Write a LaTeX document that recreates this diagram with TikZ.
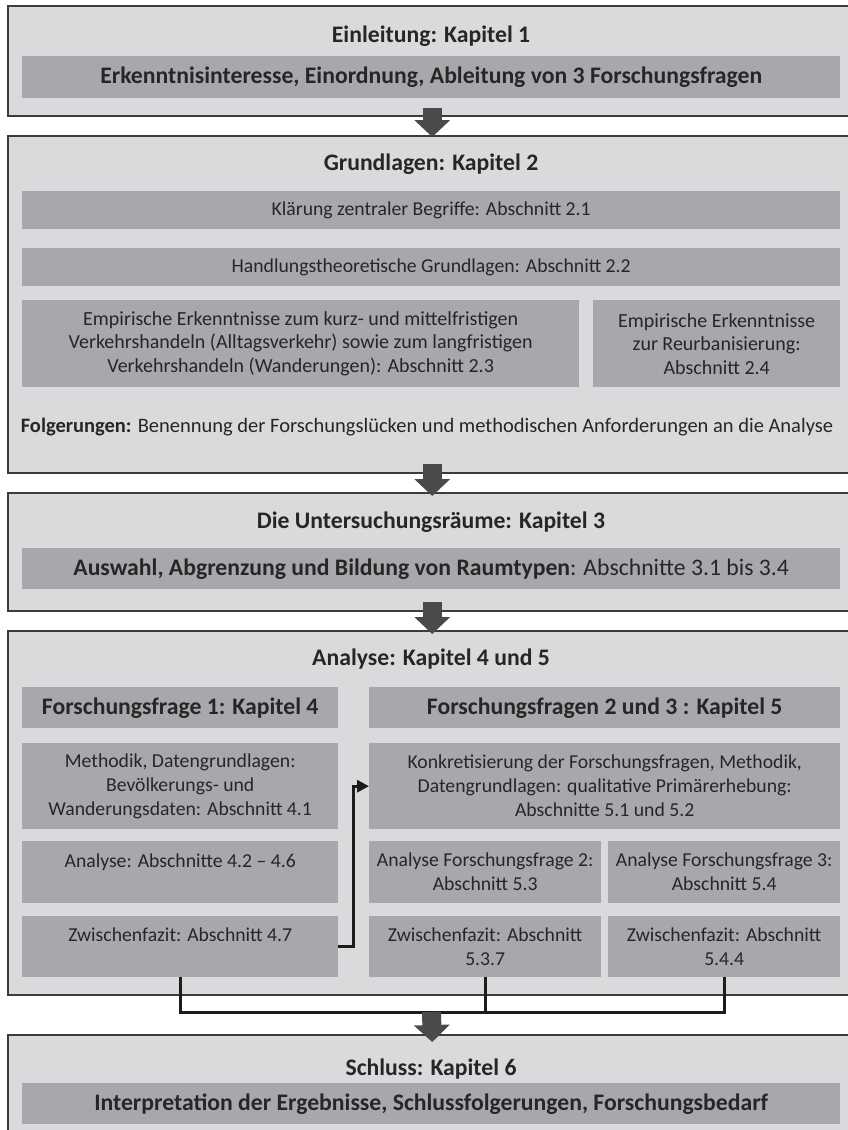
\documentclass[tikz,border=0pt]{standalone}
\usepackage{fontspec}
\setmainfont{Carlito}
\usepackage{tikz}
\usetikzlibrary{positioning, arrows.meta}
\tikzset{>=stealth}
\usepackage{xcolor}
\definecolor{boxgray}{HTML}{D9DADB}
\definecolor{innergray}{HTML}{A7A8AB}
\definecolor{framegray}{HTML}{3C3C3C}
\definecolor{textgray}{HTML}{262626}
\definecolor{arrowgray}{HTML}{4A4A4C}
\definecolor{linegray}{HTML}{1C1C1C}
\tikzset{
	chapterbox/.style={draw=framegray, line width=1.5pt, fill=boxgray, anchor=north west, inner sep=0pt, minimum width=849pt},
	sectionbox/.style={fill=innergray, anchor=north west, inner sep=0pt, align=center, text=textgray, font=\fontsize{19.7}{24}\selectfont},
	boldbox/.style={sectionbox, font=\fontsize{23.7}{28}\selectfont\bfseries},
	heading/.style={anchor=base, text=textgray, font=\fontsize{23.7}{28}\selectfont\bfseries},
	bigarrow/.style={draw=arrowgray, line width=19pt, -{Triangle[length=17pt,width=35pt]}},
	link/.style={draw=linegray, line width=3pt},
}

\begin{document}
\begin{tikzpicture}[x=1pt, y=-1pt]
			\useasboundingbox (0,0) rectangle (848,1130);
			\clip (0,0) rectangle (848,1130);
			% Kapitel 1
			\node[chapterbox, minimum height=110pt] (e1) at (7,5) {};
			\node[heading] (e1t) at (431,42.7) {Einleitung: Kapitel 1};
			\node[boldbox, minimum width=818pt, minimum height=42pt] (e1a) at (22,56) {Erkenntnisinteresse, Einordnung, Ableitung von 3 Forschungsfragen};
			% Kapitel 2
			\node[chapterbox, minimum height=337pt] (g2) at (7,135) {};
			\node[heading] (g2t) at (431,170.6) {Grundlagen: Kapitel 2};
			\node[sectionbox, minimum width=818pt, minimum height=38pt] (g21) at (22,191) {Klärung zentraler Begriffe: Abschnitt 2.1};
			\node[sectionbox, minimum width=818pt, minimum height=38pt] (g22) at (22,248) {Handlungstheoretische Grundlagen: Abschnitt 2.2};
			\node[sectionbox, minimum width=557pt, minimum height=87pt, font=\fontsize{20}{23.5}\selectfont] (g23) at (22,300) {Empirische Erkenntnisse zum kurz- und mittelfristigen\\ Verkehrshandeln (Alltagsverkehr) sowie zum langfristigen\\ Verkehrshandeln (Wanderungen): Abschnitt 2.3};
			\node[sectionbox, minimum width=247pt, minimum height=87pt, font=\fontsize{20}{23.5}\selectfont] (g24) at (593,300) {Empirische Erkenntnisse\\ zur Reurbanisierung:\\ Abschnitt 2.4};
			\node[text=textgray, font=\fontsize{20.5}{24}\selectfont] (g2f) at (427,427) {\textbf{Folgerungen:} Benennung der Forschungslücken und methodischen Anforderungen an die Analyse};
			% Kapitel 3
			\node[chapterbox, minimum height=118pt] (u3) at (7,492) {};
			\node[heading] (u3t) at (431,528.6) {Die Untersuchungsräume: Kapitel 3};
			\node[sectionbox, minimum width=818pt, minimum height=41pt, font=\fontsize{23.7}{28}\selectfont] (u3a) at (22,548) {\textbf{Auswahl, Abgrenzung und Bildung von Raumtypen}: Abschnitte 3.1 bis 3.4};
			% Kapitel 4 und 5
			\node[chapterbox, minimum height=364pt] (a4) at (7,630) {};
			\node[heading] (a4t) at (431,665.6) {Analyse: Kapitel 4 und 5};
			\node[boldbox, minimum width=316pt, minimum height=41pt] (ff1) at (22,687) {Forschungsfrage 1: Kapitel 4};
			\node[boldbox, minimum width=471pt, minimum height=41pt] (ff23) at (369,687) {Forschungsfragen 2 und 3 : Kapitel 5};
			\node[sectionbox, minimum width=316pt, minimum height=86pt] (m41) at (22,743) {Methodik, Datengrundlagen:\\ Bevölkerungs- und\\ Wanderungsdaten: Abschnitt 4.1};
			\node[sectionbox, minimum width=471pt, minimum height=86pt] (k51) at (369,743) {Konkretisierung der Forschungsfragen, Methodik,\\ Datengrundlagen: qualitative Primärerhebung:\\ Abschnitte 5.1 und 5.2};
			\node[sectionbox, minimum width=316pt, minimum height=62pt] (a42) at (22,841) {Analyse: Abschnitte 4.2 -- 4.6\\ \mbox{}};
			\node[sectionbox, minimum width=232pt, minimum height=62pt] (a53) at (369,841) {Analyse Forschungsfrage 2:\\ Abschnitt 5.3};
			\node[sectionbox, minimum width=232pt, minimum height=62pt] (a54) at (608,841) {Analyse Forschungsfrage 3:\\ Abschnitt 5.4};
			\node[sectionbox, minimum width=316pt, minimum height=61pt] (z47) at (22,916) {Zwischenfazit: Abschnitt 4.7\\ \mbox{}};
			\node[sectionbox, minimum width=232pt, minimum height=61pt] (z537) at (369,916) {Zwischenfazit: Abschnitt\\ 5.3.7};
			\node[sectionbox, minimum width=232pt, minimum height=61pt] (z544) at (608,916) {Zwischenfazit: Abschnitt\\ 5.4.4};
			% Kapitel 6
			\node[chapterbox, minimum height=120pt] (s6) at (7,1034) {};
			\node[heading] (s6t) at (431,1075.6) {Schluss: Kapitel 6};
			\node[boldbox, minimum width=818pt, minimum height=41pt] (s6a) at (22,1083) {Interpretation der Ergebnisse, Schlussfolgerungen, Forschungsbedarf};
			% Pfeile
			\coordinate (bus) at (431.5,1012);
			\draw[bigarrow] ([yshift=9pt]e1.south) -- ([yshift=-2pt]g2.north);
			\draw[bigarrow] ([yshift=10pt]g2.south) -- ([yshift=-4pt]u3.north);
			\draw[bigarrow] ([yshift=10pt]u3.south) -- ([yshift=-4pt]a4.north);
			\draw[link] (z47.south) -- (z47.south |- bus) -| (z544.south);
			\draw[link] (z537.south) -- (z537.south |- bus);
			\draw[bigarrow] (bus) -- ([yshift=-8pt]s6.north);
			\draw[link, -{Triangle[length=12pt,width=12pt]}] (z47.east) -- ++(15,0) |- (k51.west);
		\end{tikzpicture}
\end{document}
